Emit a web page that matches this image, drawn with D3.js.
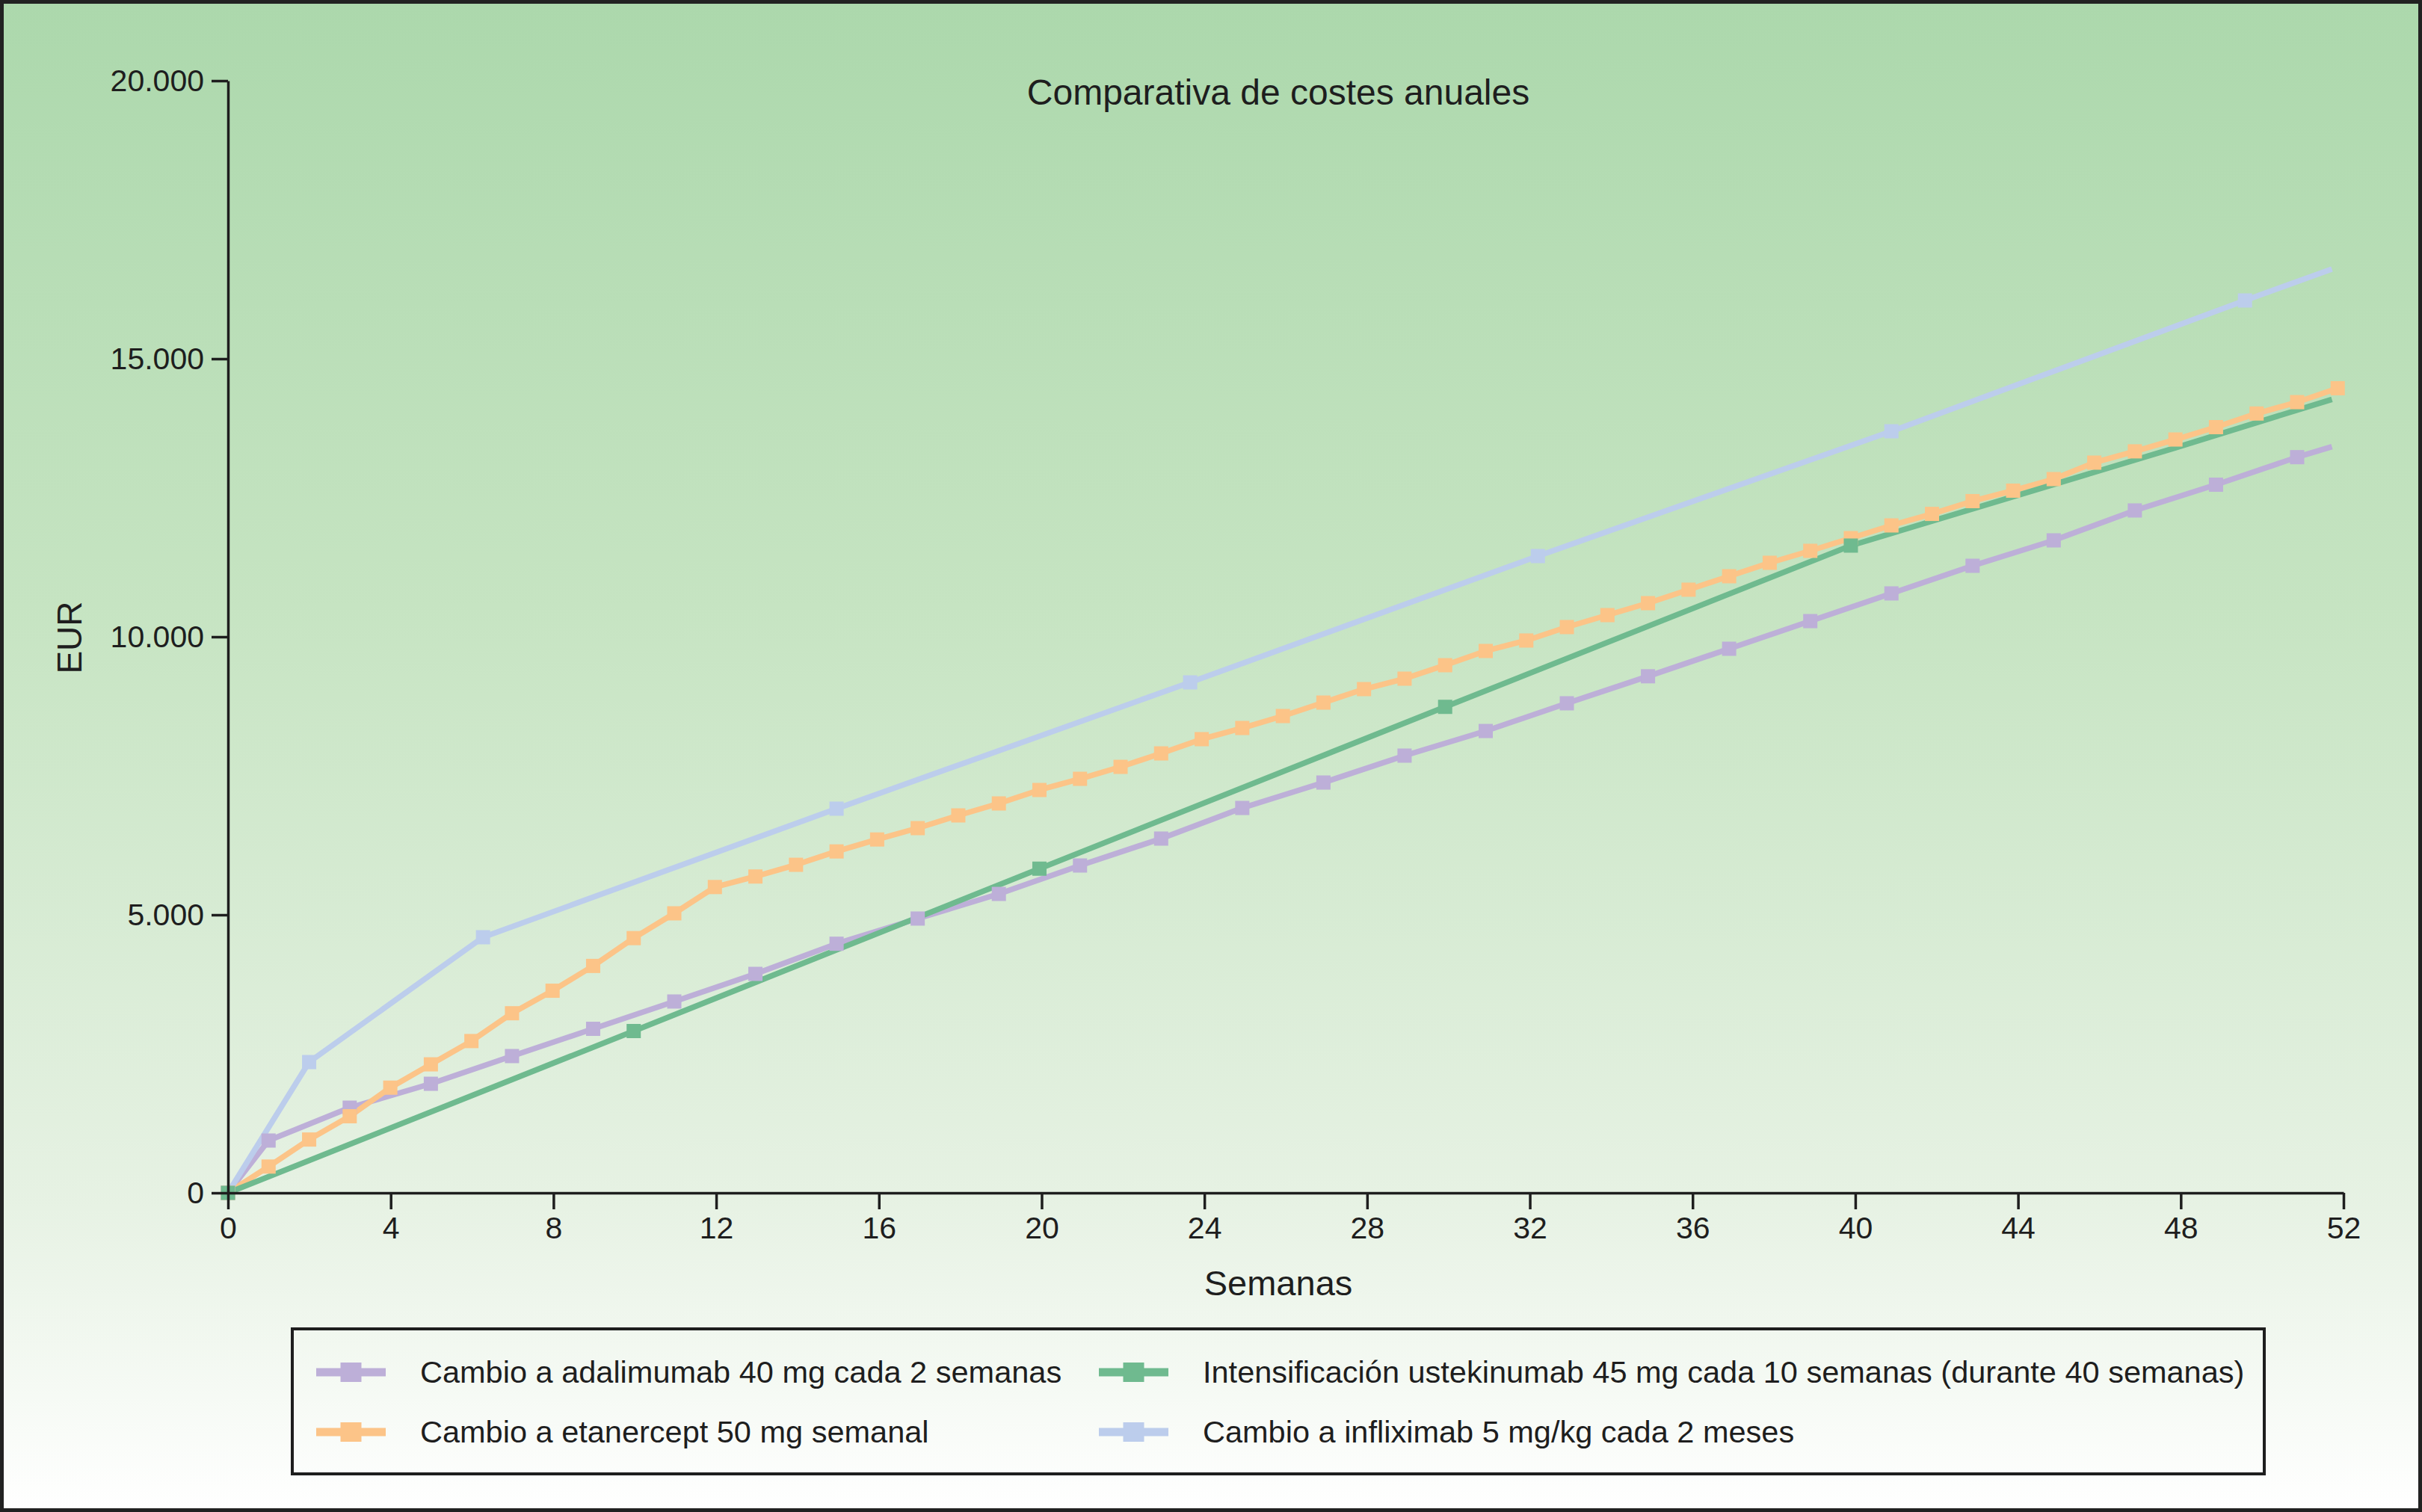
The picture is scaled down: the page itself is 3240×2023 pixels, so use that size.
<!DOCTYPE html>
<html>
<head>
<meta charset="utf-8">
<script src="https://cdn.jsdelivr.net/npm/d3@7"></script>
<style>
  body { margin: 0; background: #fff; }
  svg { display: block; font-family: "Liberation Sans", Arial, Helvetica, sans-serif; }
</style>
</head>
<body>
<svg id="chart" width="3240" height="2023"></svg>
<script>
// x values are days (the axis is labelled in weeks)
const weekTicks = [0, 4, 8, 12, 16, 20, 24, 28, 32, 36, 40, 44, 48, 52];
const eurTicks = [0, 5000, 10000, 15000, 20000];

const adaDays = [0, 7, 21, 35, 49, 63, 77, 91, 105, 119, 133, 147, 161, 175, 189, 203, 217, 231, 245, 259, 273, 287, 301, 315, 329, 343, 357, 363];
const adaValues = [0, 941, 1532, 1962, 2460, 2950, 3441, 3938, 4480, 4933, 5376, 5887, 6371, 6922, 7379, 7863, 8306, 8804, 9290, 9785, 10282, 10780, 11277, 11734, 12272, 12735, 13230, 13420];

const etaDays = [0, 7, 14, 21, 28, 35, 42, 49, 56, 63, 70, 77, 84, 91, 98, 105, 112, 119, 126, 133, 140, 147, 154, 161, 168, 175, 182, 189, 196, 203, 210, 217, 224, 231, 238, 245, 252, 259, 266, 273, 280, 287, 294, 301, 308, 315, 322, 329, 336, 343, 350, 357, 364];
const etaValues = [0, 473, 959, 1378, 1892, 2311, 2730, 3230, 3635, 4081, 4581, 5027, 5500, 5689, 5900, 6140, 6355, 6559, 6788, 7003, 7245, 7446, 7661, 7903, 8159, 8360, 8575, 8817, 9059, 9247, 9489, 9745, 9933, 10175, 10390, 10605, 10847, 11089, 11331, 11546, 11774, 12003, 12210, 12440, 12628, 12836, 13132, 13335, 13548, 13770, 14015, 14220, 14470];

const ustDays = [0, 70, 140, 210, 280, 336, 363];
const ustValues = [0, 2910, 5830, 8740, 11640, 13400, 14270];

const infDays = [0, 14, 44, 105, 166, 226, 287, 348, 363];
const infValues = [0, 2352, 4597, 6909, 9180, 11452, 13696, 16048, 16613];

const series = [
  { key: "ada", label: "Cambio a adalimumab 40 mg cada 2 semanas", days: adaDays, values: adaValues, color: "#bdafd8", marks: 27 },
  { key: "eta", label: "Cambio a etanercept 50 mg semanal", days: etaDays, values: etaValues, color: "#fcc488", marks: 53 },
  { key: "ust", label: "Intensificación ustekinumab 45 mg cada 10 semanas (durante 40 semanas)", days: ustDays, values: ustValues, color: "#6fba8f", marks: 5 },
  { key: "inf", label: "Cambio a infliximab 5 mg/kg cada 2 meses", days: infDays, values: infValues, color: "#bccdec", marks: 8 },
];

const width = 3240;
const height = 2023;
const svg = d3.select("#chart");

// background gradient + frame
const defs = svg.append("defs");
const grad = defs.append("linearGradient").attr("id", "bg").attr("x1", 0).attr("y1", 0).attr("x2", 0).attr("y2", 1);
grad.append("stop").attr("offset", "0%").attr("stop-color", "#acd8ac");
grad.append("stop").attr("offset", "40%").attr("stop-color", "#c6e4c2");
grad.append("stop").attr("offset", "80%").attr("stop-color", "#e7f2e4");
grad.append("stop").attr("offset", "100%").attr("stop-color", "#ffffff");

svg.append("rect")
  .attr("x", 2.5).attr("y", 2.5)
  .attr("width", width - 5).attr("height", height - 5)
  .attr("fill", "url(#bg)")
  .attr("stroke", "#222").attr("stroke-width", 5);

const x = d3.scaleLinear().domain([0, 365]).range([305, 3135]);
const y = d3.scaleLinear().domain([0, 20000]).range([1596, 108]);

const esFormat = d3.formatLocale({ decimal: ",", thousands: ".", grouping: [3], currency: ["", " €"] }).format(",");

const line = d3.line().x((d) => x(d[0])).y((d) => y(d[1]));

// lines first
const linesG = svg.append("g");
series.forEach((s) => {
  linesG.append("path")
    .datum(d3.zip(s.days, s.values))
    .attr("d", line)
    .attr("fill", "none")
    .attr("stroke", s.color)
    .attr("stroke-width", 7.5)
    .attr("stroke-linejoin", "round");
});

// then markers
const markerOrder = ["ada", "inf", "eta", "ust"];
const sq = 19;
markerOrder.forEach((k) => {
  const s = series.find((d) => d.key === k);
  svg.append("g")
    .selectAll("rect")
    .data(d3.zip(s.days, s.values).slice(0, s.marks))
    .join("rect")
    .attr("x", (d) => x(d[0]) - sq / 2)
    .attr("y", (d) => y(d[1]) - sq / 2)
    .attr("width", sq)
    .attr("height", sq)
    .attr("fill", s.color);
});

// axes
const xAxis = d3.axisBottom(x)
  .tickValues(weekTicks.map((w) => (w * 365) / 52))
  .tickFormat((d, i) => weekTicks[i])
  .tickSize(22).tickSizeOuter(0).tickPadding(10);

const yAxis = d3.axisLeft(y)
  .tickValues(eurTicks)
  .tickFormat(esFormat)
  .tickSize(22).tickSizeOuter(0).tickPadding(10);

const gx = svg.append("g").attr("transform", "translate(0,1596)").call(xAxis);
const gy = svg.append("g").attr("transform", "translate(305,0)").call(yAxis);

[gx, gy].forEach((g) => {
  g.selectAll("path, line").attr("stroke", "#1e1e1e").attr("stroke-width", 3.5);
  g.selectAll("text").attr("fill", "#1e1e1e").style("font-size", "41px").style("font-family", "'Liberation Sans', Arial, sans-serif");
});

// titles
svg.append("text")
  .attr("x", 1710).attr("y", 140)
  .attr("text-anchor", "middle")
  .attr("fill", "#1e1e1e")
  .style("font-size", "48px")
  .text("Comparativa de costes anuales");

svg.append("text")
  .attr("x", 1710).attr("y", 1733)
  .attr("text-anchor", "middle")
  .attr("fill", "#1e1e1e")
  .style("font-size", "47px")
  .text("Semanas");

svg.append("text")
  .attr("transform", "translate(109,853) rotate(-90)")
  .attr("text-anchor", "middle")
  .attr("fill", "#1e1e1e")
  .style("font-size", "46px")
  .text("EUR");

// legend
svg.append("rect")
  .attr("x", 391).attr("y", 1778)
  .attr("width", 2638).attr("height", 194)
  .attr("fill", "none")
  .attr("stroke", "#1e1e1e").attr("stroke-width", 4);

const legendPos = {
  ada: [423, 1836],
  ust: [1470, 1836],
  eta: [423, 1916],
  inf: [1470, 1916],
};

series.forEach((s) => {
  const [lx, ly] = legendPos[s.key];
  const g = svg.append("g").attr("transform", `translate(${lx},${ly})`);
  g.append("line")
    .attr("x1", 0).attr("x2", 93)
    .attr("y1", 0).attr("y2", 0)
    .attr("stroke", s.color).attr("stroke-width", 11);
  g.append("rect")
    .attr("x", 46.5 - 14).attr("y", -13)
    .attr("width", 28).attr("height", 26)
    .attr("fill", s.color);
  g.append("text")
    .attr("x", 139).attr("y", 14)
    .attr("fill", "#1e1e1e")
    .style("font-size", "41.5px")
    .text(s.label);
});
</script>
</body>
</html>
